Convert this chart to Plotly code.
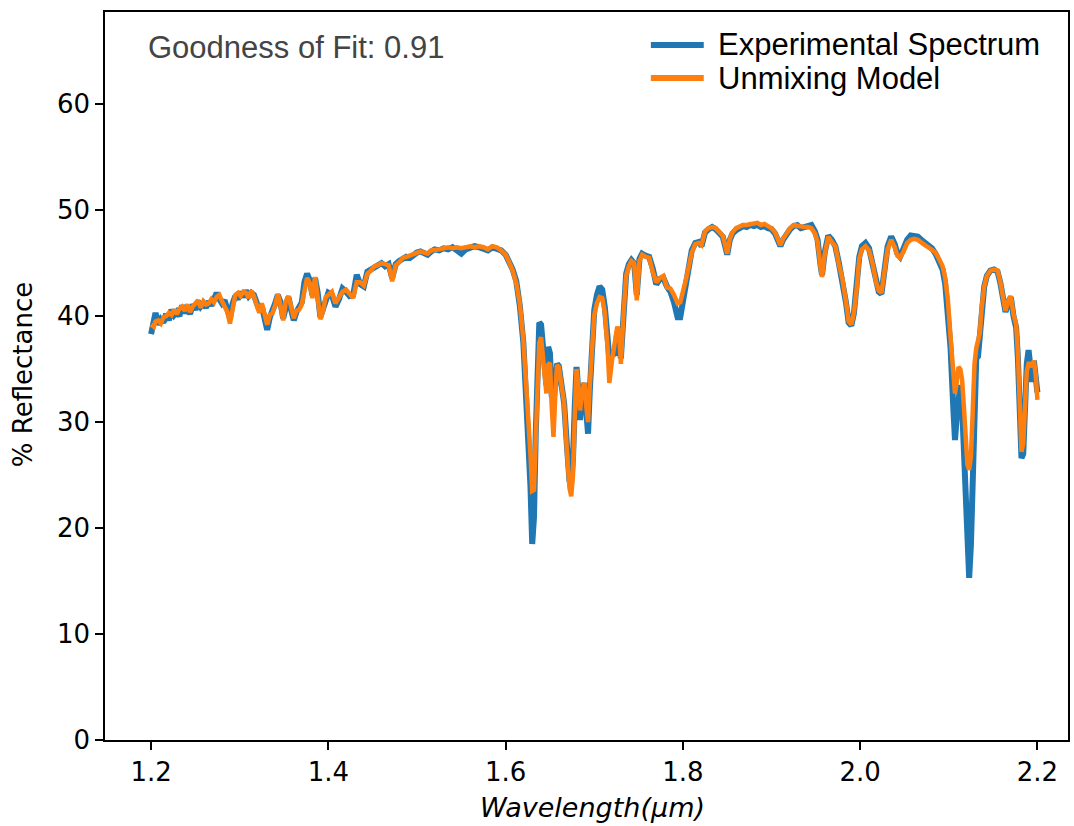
import plotly.graph_objects as go

wavelength = [
    1.200, 1.203, 1.205, 1.208, 1.211, 1.214, 1.217, 1.220, 1.223, 1.226, 1.229, 1.232, 1.235, 1.238, 1.241,
    1.244, 1.247, 1.250, 1.253, 1.256, 1.259, 1.262, 1.265, 1.268, 1.271, 1.274, 1.277, 1.280, 1.283, 1.286,
    1.289, 1.292, 1.295, 1.298, 1.301, 1.304, 1.307, 1.310, 1.313, 1.316, 1.319, 1.322, 1.325, 1.328, 1.331,
    1.334, 1.337, 1.340, 1.343, 1.346, 1.349, 1.352, 1.355, 1.358, 1.361, 1.364, 1.367, 1.370, 1.373, 1.376,
    1.379, 1.382, 1.385, 1.388, 1.391, 1.394, 1.397, 1.400,
    1.404, 1.408, 1.412, 1.416, 1.420, 1.424, 1.428, 1.432, 1.436, 1.440, 1.444, 1.448, 1.452, 1.456, 1.460,
    1.464, 1.468, 1.472, 1.476, 1.480, 1.484, 1.488, 1.492, 1.496, 1.500, 1.504, 1.508, 1.512, 1.516, 1.520,
    1.525, 1.530, 1.535, 1.540, 1.545, 1.550, 1.555, 1.560, 1.565, 1.570, 1.575, 1.580, 1.585, 1.590, 1.595,
    1.600, 1.604, 1.608, 1.612, 1.616, 1.620, 1.624, 1.628, 1.630, 1.632, 1.634, 1.636, 1.638, 1.640, 1.642,
    1.644, 1.646, 1.648, 1.650, 1.652, 1.654, 1.656, 1.658, 1.660, 1.663, 1.666, 1.669, 1.672, 1.674, 1.676,
    1.678, 1.680, 1.682, 1.684, 1.686, 1.689, 1.691, 1.693, 1.695, 1.697, 1.700, 1.703, 1.706, 1.709, 1.712,
    1.715, 1.717, 1.720, 1.723, 1.726, 1.728, 1.730, 1.733, 1.736, 1.739, 1.742, 1.745, 1.748, 1.751, 1.754,
    1.758, 1.762, 1.766, 1.770, 1.774, 1.778, 1.782, 1.786, 1.790, 1.794, 1.797, 1.800, 1.803, 1.806, 1.810,
    1.814, 1.818, 1.821, 1.825, 1.829, 1.833, 1.837, 1.841, 1.845, 1.848, 1.850, 1.853, 1.856, 1.860, 1.864,
    1.868, 1.872, 1.876, 1.880, 1.884, 1.888, 1.892, 1.896, 1.900, 1.904, 1.907, 1.910, 1.913, 1.917, 1.921,
    1.925, 1.929, 1.933, 1.937, 1.941, 1.945, 1.949, 1.952, 1.955, 1.957, 1.960, 1.964, 1.968, 1.972, 1.976,
    1.980, 1.984, 1.987, 1.990, 1.993, 1.996, 1.999, 2.002, 2.006, 2.010, 2.014, 2.018, 2.021, 2.024, 2.027,
    2.031, 2.035, 2.039, 2.042, 2.045, 2.049, 2.053, 2.057, 2.061, 2.065, 2.069, 2.073, 2.077, 2.081, 2.085,
    2.089, 2.093, 2.096, 2.099, 2.102, 2.105, 2.107, 2.109, 2.111, 2.113, 2.115, 2.117, 2.119, 2.121, 2.123,
    2.125, 2.127, 2.129, 2.131, 2.133, 2.135, 2.137, 2.140, 2.143, 2.147, 2.151, 2.155, 2.158, 2.161, 2.164,
    2.167, 2.170, 2.173, 2.176, 2.178, 2.180, 2.182, 2.184, 2.186, 2.188, 2.190, 2.192, 2.194, 2.196, 2.198,
    2.200,
]

experimental = [
    38.3, 39.8, 40.3, 39.2, 39.7, 39.4, 40.2, 39.6, 40.6, 40.1, 40.4, 40.0, 41.0, 40.3, 40.7,
    40.2, 41.1, 40.6, 41.4, 40.9, 41.2, 40.8, 41.4, 41.0, 41.7, 42.2, 41.6, 41.2, 41.5, 40.8,
    39.8, 41.2, 41.9, 41.6, 42.3, 41.8, 42.4, 41.9, 42.2, 42.0, 41.3, 40.6, 40.9, 39.6, 38.7,
    39.9, 40.4, 41.2, 42.0, 41.3, 39.8, 41.0, 41.8, 40.6, 39.6, 40.4, 40.8, 41.3, 43.2, 44.0,
    43.4, 42.0, 43.6, 42.2, 39.9, 40.7, 41.7, 42.2,
    42.0, 40.9, 41.6, 42.6, 42.3, 41.9, 42.0, 43.9, 43.0, 42.8, 44.2, 44.4, 44.6, 44.9, 45.0,
    44.7, 44.9, 43.6, 44.9, 45.2, 45.4, 45.6, 45.5, 45.8, 46.0, 46.1, 45.9, 45.8, 46.1, 46.3,
    46.2, 46.4, 46.3, 46.5, 46.2, 45.9, 46.3, 46.5, 46.6, 46.5, 46.4, 46.2, 46.5, 46.4, 46.2,
    45.8, 45.2, 44.4, 43.3, 41.0, 37.5, 31.5, 24.0, 18.5, 21.0, 29.0, 36.0, 39.4, 39.2, 37.0,
    34.5, 33.5, 37.1, 36.5, 32.5, 32.0, 33.5, 35.5, 35.3, 33.5, 31.8, 28.0, 24.5, 24.3, 26.5,
    31.5, 35.2, 33.0, 30.2, 32.5, 33.7, 31.0, 28.9, 33.0, 37.0, 40.6, 42.0, 42.8, 42.5, 40.8,
    38.0, 36.0, 36.5, 36.3, 38.5, 37.8, 36.0, 40.5, 44.0, 44.9, 45.3, 45.0, 42.0, 45.4, 45.9,
    45.7, 45.6, 44.5, 43.0, 43.5, 43.6, 42.8, 42.3, 41.3, 39.9, 39.9, 41.5, 43.0, 44.5, 46.2,
    46.9, 47.0, 46.6, 47.9, 48.2, 48.4, 48.2, 47.9, 47.5, 46.5, 45.8, 47.2, 47.8, 48.1, 48.3,
    48.5, 48.4, 48.6, 48.5, 48.6, 48.4, 48.5, 48.3, 48.2, 47.8, 47.3, 46.6, 47.2, 47.8, 48.2,
    48.5, 48.6, 48.3, 48.4, 48.5, 48.6, 48.0, 47.2, 45.0, 43.9, 46.0, 47.6, 47.2, 46.6, 45.0,
    43.4, 41.3, 39.4, 39.1, 40.3, 42.8, 45.6, 46.6, 46.9, 46.4, 45.0, 43.3, 42.3, 42.1, 44.2,
    46.6, 47.5, 46.8, 45.9, 45.6, 46.4, 47.2, 47.6, 47.6, 47.5, 47.2, 46.9, 46.7, 46.4, 45.9,
    45.1, 44.4, 43.0, 40.5, 37.0, 31.5, 28.3, 30.5, 32.8, 33.5, 31.5, 27.0, 21.0, 16.5, 15.3,
    18.5, 26.0, 33.0, 36.0, 36.2, 37.8, 40.5, 42.8, 43.8, 44.3, 44.4, 44.2, 43.2, 41.6, 40.4,
    41.3, 41.8, 40.0, 38.9, 36.0, 31.5, 26.6, 27.0, 31.8, 35.5, 36.8, 35.2, 33.8, 35.8, 34.0,
    32.8,
]

unmixing_model = [
    39.2, 39.0, 39.5, 39.6, 39.3, 39.9, 40.0, 40.3, 40.1, 40.6, 40.2, 40.7, 40.9, 40.5, 41.1,
    40.4, 40.9, 41.3, 41.5, 40.8, 41.4, 41.1, 41.2, 41.6, 41.3, 41.8, 42.0, 41.4, 41.0, 40.4,
    39.3, 40.9, 42.0, 42.2, 41.9, 42.3, 42.2, 41.7, 42.4, 41.9, 41.0, 40.3, 41.2, 40.0, 39.2,
    40.1, 40.3, 41.0, 42.1, 41.0, 39.6, 41.4, 41.9, 40.9, 39.8, 40.5, 40.6, 41.1, 42.6, 43.6,
    43.1, 41.7, 43.7, 41.9, 39.7, 40.5, 41.8, 42.0,
    42.3, 41.2, 41.8, 42.3, 42.5, 42.1, 41.7, 43.2, 43.2, 42.9, 44.0, 44.3, 44.7, 44.8, 45.0,
    44.9, 44.8, 43.3, 44.8, 45.1, 45.5, 45.6, 45.7, 45.9, 46.0, 46.1, 46.0, 45.9, 46.2, 46.2,
    46.3, 46.4, 46.5, 46.4, 46.5, 46.4, 46.5, 46.6, 46.5, 46.6, 46.5, 46.3, 46.6, 46.5, 46.2,
    45.8, 45.1, 44.3, 43.1, 41.2, 37.8, 33.0, 27.0, 23.5, 23.6, 28.5, 34.5, 37.5, 38.0, 36.2,
    33.5, 32.7, 35.4, 35.6, 31.5, 28.6, 32.5, 35.4, 35.2, 33.3, 31.8, 27.5, 23.8, 23.0, 25.0,
    30.5, 35.0, 33.5, 31.1, 32.8, 33.7, 31.5, 30.0, 33.5, 37.0, 40.1, 41.2, 41.8, 41.7, 40.3,
    37.0, 33.7, 35.8, 37.5, 39.0, 38.5, 35.5, 40.2, 43.8, 44.7, 45.2, 45.0, 41.5, 45.2, 45.8,
    45.6, 45.5, 44.2, 43.2, 43.6, 43.8, 42.7, 42.6, 42.0, 41.2, 41.3, 42.2, 43.3, 44.4, 46.0,
    46.8, 46.9, 46.7, 48.0, 48.3, 48.4, 48.3, 48.0, 47.6, 46.6, 45.9, 47.3, 47.9, 48.3, 48.5,
    48.6, 48.6, 48.7, 48.7, 48.8, 48.6, 48.7, 48.5, 48.3, 47.9, 47.4, 46.7, 47.3, 47.9, 48.3,
    48.6, 48.5, 48.4, 48.4, 48.4, 48.3, 47.8, 47.0, 44.8, 43.7, 45.8, 47.5, 47.0, 46.6, 44.9,
    43.5, 41.4, 39.5, 39.2, 40.3, 42.5, 45.4, 46.3, 46.6, 46.2, 45.0, 43.2, 42.4, 42.2, 44.0,
    46.3, 47.2, 46.5, 45.7, 45.5, 46.1, 46.9, 47.2, 47.3, 47.2, 46.9, 46.7, 46.5, 46.3, 46.0,
    45.4, 44.7, 43.6, 41.5, 38.0, 34.0, 32.7, 33.8, 35.2, 35.0, 34.0, 31.5, 28.5, 26.0, 25.5,
    26.8, 31.0, 35.5, 37.0, 37.7, 38.4, 40.7, 42.8, 43.8, 44.3, 44.4, 44.3, 43.3, 41.8, 40.5,
    41.4, 41.9, 40.2, 39.2, 36.5, 32.5, 27.2, 28.0, 31.8, 34.8, 35.5, 35.5, 35.2, 35.8, 34.5,
    32.1,
]

series_names = ["Experimental Spectrum", "Unmixing Model"]
series_colors = ["#1f77b4", "#ff7f0e"]

x_ticks = [1.2, 1.4, 1.6, 1.8, 2.0, 2.2]
x_tick_labels = ["1.2", "1.4", "1.6", "1.8", "2.0", "2.2"]
y_ticks = [0, 10, 20, 30, 40, 50, 60]
y_tick_labels = ["0", "10", "20", "30", "40", "50", "60"]

W, H = 1074, 826
L, R, T, B = 105, 1070, 12, 740


def px_x(p):
    return (p - L) / (R - L)


def px_y(p):
    return 1 - (p - T) / (B - T)


fig = go.Figure()
fig.add_trace(go.Scatter(x=wavelength, y=experimental, mode="lines", name=series_names[0],
                         line=dict(color=series_colors[0], width=6), showlegend=False))
fig.add_trace(go.Scatter(x=wavelength, y=unmixing_model, mode="lines", name=series_names[1],
                         line=dict(color=series_colors[1], width=4.5), showlegend=False))

axis_common = dict(showline=True, linecolor="black", linewidth=1.5, mirror=True, ticks="outside",
                   ticklen=8, tickwidth=1.5, tickcolor="black", showgrid=False, zeroline=False,
                   tickfont=dict(family="DejaVu Sans", size=26, color="black"))

legend_rows_y = [45, 78]
shapes = []
annotations = []
for name, color, ry in zip(series_names, series_colors, legend_rows_y):
    shapes.append(dict(type="line", xref="paper", yref="paper", x0=px_x(652), x1=px_x(705),
                       y0=px_y(ry), y1=px_y(ry), line=dict(color=color, width=6)))
    annotations.append(dict(text=name, xref="paper", yref="paper", x=px_x(717), y=px_y(ry),
                            xanchor="left", yanchor="middle", showarrow=False,
                            font=dict(family="Liberation Sans, Arial", size=31, color="black")))

annotations += [
    dict(text="Goodness of Fit: 0.91", xref="paper", yref="paper",
         x=px_x(146), y=px_y(47), xanchor="left", yanchor="middle",
         showarrow=False, font=dict(family="Liberation Sans, Arial", size=31, color="#444444")),
    dict(text="% Reflectance", xref="paper", yref="paper", textangle=-90,
         x=px_x(23), y=px_y(375), xanchor="center", yanchor="middle",
         showarrow=False, font=dict(family="DejaVu Sans", size=26, color="black")),
    dict(text="<i>Wavelength(μm)</i>", xref="paper", yref="paper",
         x=px_x(594), y=px_y(808), xanchor="center", yanchor="middle",
         showarrow=False, font=dict(family="DejaVu Sans", size=27, color="black")),
]

fig.update_layout(
    width=W, height=H,
    margin=dict(l=L, r=W - R, t=T, b=H - B, pad=0),
    paper_bgcolor="white", plot_bgcolor="white",
    xaxis=dict(range=[1.148, 2.2345], tickvals=x_ticks, ticktext=x_tick_labels, **axis_common),
    yaxis=dict(range=[0, 68.7], tickvals=y_ticks, ticktext=y_tick_labels, **axis_common),
    showlegend=False,
    shapes=shapes,
    annotations=annotations,
)

fig.write_html("out.html")
